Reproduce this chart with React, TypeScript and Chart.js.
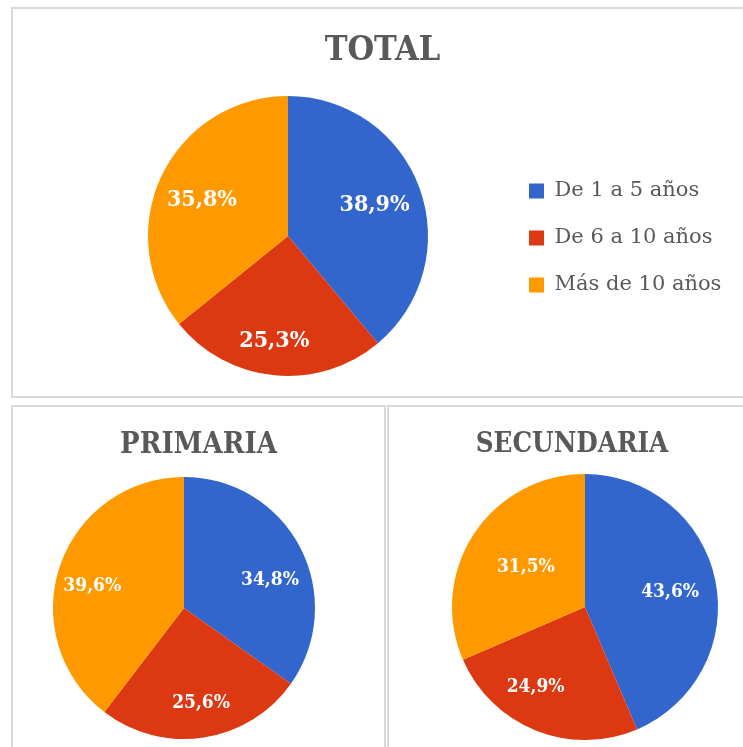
import React, { useEffect, useRef } from "react";
import { Chart, registerables } from "chart.js";

Chart.register(...registerables);

// ---------- data ----------
const categories = ["De 1 a 5 años", "De 6 a 10 años", "Más de 10 años"];
const totalValues = [38.9, 25.3, 35.8];
const primariaValues = [34.8, 25.6, 39.6];
const secundariaValues = [43.6, 24.9, 31.5];
const sliceColors = ["#3366CC", "#DC3912", "#FF9900"];

const CONDENSED = "'DejaVu Serif Condensed', 'DejaVu Serif', serif";
const SERIF = "'DejaVu Serif', serif";
const GREY = "#595959";

type LabelCfg = { size: number; radial: number[]; shift: number[] };

function makeSliceLabels(cfg: LabelCfg) {
  return {
    id: "sliceLabels",
    afterDatasetsDraw(chart: any) {
      const ctx = chart.ctx as CanvasRenderingContext2D;
      const meta = chart.getDatasetMeta(0);
      const data = chart.data.datasets[0].data as number[];
      ctx.save();
      ctx.font = `bold ${cfg.size}px ${CONDENSED}`;
      ctx.fillStyle = "#ffffff";
      ctx.textAlign = "center";
      ctx.textBaseline = "middle";
      meta.data.forEach((arc: any, i: number) => {
        const p = arc.getProps(["x", "y", "startAngle", "endAngle", "outerRadius"], true);
        const a = (p.startAngle + p.endAngle) / 2 + ((cfg.shift[i] || 0) * Math.PI) / 180;
        const r = p.outerRadius * cfg.radial[i];
        const txt = data[i].toFixed(1).replace(".", ",") + "%";
        ctx.fillText(txt, p.x + Math.cos(a) * r, p.y + Math.sin(a) * r);
      });
      ctx.restore();
    },
  };
}

// lets the legend text run past the (narrow) legend box without being clipped
const legendUnclip = {
  id: "legendUnclip",
  afterLayout(chart: any) {
    const l = chart.legend;
    if (l) {
      l.right = chart.width;
      l.width = l.right - l.left;
      l.top += 2;
      l.bottom += 2;
    }
  },
};

type PieProps = {
  title: string;
  values: number[];
  width: number;
  height: number;
  left: number;
  top: number;
  titleSize: number;
  titlePad: { top: number; bottom: number };
  padding: { left: number; right: number; top: number; bottom: number };
  legend: any;
  labels: LabelCfg;
  extraPlugins?: any[];
};

function PieCanvas(props: PieProps) {
  const ref = useRef<HTMLCanvasElement | null>(null);
  useEffect(() => {
    if (!ref.current) return;
    const chart = new Chart(ref.current, {
      type: "pie",
      data: {
        labels: categories,
        datasets: [
          {
            data: props.values,
            backgroundColor: sliceColors,
            borderWidth: 0,
            hoverOffset: 0,
            offset: 0,
          } as any,
        ],
      },
      options: {
        responsive: false,
        animation: false,
        devicePixelRatio: 1,
        events: [],
        layout: { padding: props.padding },
        plugins: {
          title: {
            display: true,
            text: props.title,
            color: GREY,
            font: { family: CONDENSED, size: props.titleSize, weight: "bold", lineHeight: 1.2 },
            padding: props.titlePad,
          },
          legend: props.legend,
          tooltip: { enabled: false },
        },
      } as any,
      plugins: [makeSliceLabels(props.labels), ...(props.extraPlugins || [])],
    });
    return () => chart.destroy();
  }, []);
  return (
    <canvas
      ref={ref}
      width={props.width}
      height={props.height}
      style={{ position: "absolute", left: props.left, top: props.top, width: props.width, height: props.height }}
    />
  );
}

const boxStyle = (left: number, top: number, width: number, height: number): React.CSSProperties => ({
  position: "absolute",
  left,
  top,
  width,
  height,
  border: "2px solid #d9d9d9",
  boxSizing: "border-box",
});

export default function App() {
  const spacer = (pos: string, w: number) => ({
    display: true,
    position: pos,
    fullSize: false,
    maxWidth: w,
    labels: { padding: 300, generateLabels: () => [] },
  });
  return (
    <div
      style={{
        position: "absolute",
        left: 0,
        top: 0,
        width: 743,
        height: 747,
        overflow: "hidden",
        background: "#ffffff",
      }}
    >
      <div style={boxStyle(11, 7, 745, 391)} />
      <div style={boxStyle(11, 405, 375, 400)} />
      <div style={boxStyle(387, 405, 400, 400)} />

      <PieCanvas
        title="TOTAL"
        values={totalValues}
        left={13}
        top={9}
        width={730}
        height={386}
        titleSize={34}
        titlePad={{ top: 21.9, bottom: 24.3 }}
        padding={{ left: 60, right: 51, top: 0, bottom: 19 }}
        legend={{
          display: true,
          position: "right",
          fullSize: false,
          maxWidth: 189,
          align: "center",
          labels: {
            boxWidth: 15,
            boxHeight: 15,
            padding: 26,
            color: GREY,
            font: { family: SERIF, size: 21 },
          },
        }}
        labels={{ size: 23, radial: [0.656, 0.76, 0.667], shift: [0.6, 1.8, -2.7] }}
        extraPlugins={[legendUnclip]}
      />

      <PieCanvas
        title="PRIMARIA"
        values={primariaValues}
        left={13}
        top={407}
        width={371}
        height={340}
        titleSize={29}
        titlePad={{ top: 21.3, bottom: 13.9 }}
        padding={{ left: 0, right: 0, top: 0, bottom: 8 }}
        legend={spacer("right", 29)}
        labels={{ size: 19, radial: [0.69, 0.74, 0.72], shift: [9.4, -1.5, -5.2] }}
      />

      <PieCanvas
        title="SECUNDARIA"
        values={secundariaValues}
        left={389}
        top={407}
        width={354}
        height={340}
        titleSize={27.5}
        titlePad={{ top: 21.5, bottom: 12.5 }}
        padding={{ left: 12, right: 0, top: 0, bottom: 7 }}
        legend={spacer("left", 26)}
        labels={{ size: 19, radial: [0.65, 0.705, 0.536], shift: [1.5, 10, 0.7] }}
      />
    </div>
  );
}
